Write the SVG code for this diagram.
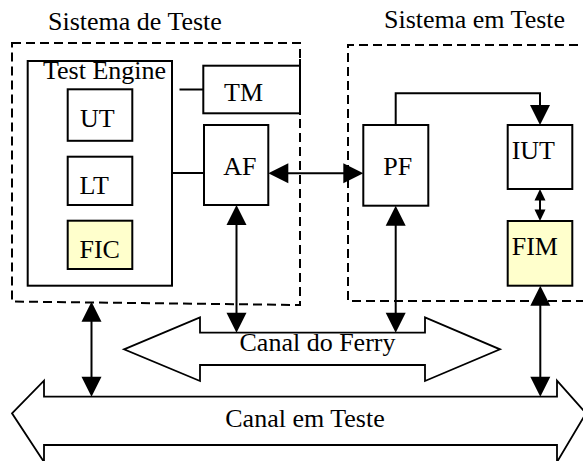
<svg xmlns="http://www.w3.org/2000/svg" width="583" height="461" viewBox="0 0 583 461">
  <style>
    text { font-family: "Liberation Serif", "Times New Roman", serif; font-size: 26px; fill: #000; }
    .box { fill: #fff; stroke: #000; stroke-width: 2; }
    .hl { fill: #ffffcc; stroke: #000; stroke-width: 2; }
    .dash { fill: none; stroke: #000; stroke-width: 2; stroke-dasharray: 9 5; }
    .wire { fill: none; stroke: #000; stroke-width: 2; }
    .head { fill: #000; stroke: none; }
    .bus { fill: #fff; stroke: #000; stroke-width: 1.8; stroke-linejoin: miter; }
  </style>

  <!-- system boundaries -->
  <g id="sistema-de-teste">
    <path class="dash" d="M12,43 H300 V305 L12,301.5 Z"/>
    <text x="48" y="29.5">Sistema de Teste</text>
  </g>
  <g id="sistema-em-teste">
    <path class="dash" d="M592,45 H348 V301 H592"/>
    <text x="384" y="27.5">Sistema em Teste</text>
  </g>

  <!-- channels -->
  <g id="canal-do-ferry">
    <path class="bus" d="M124,349.3 L200,317.3 V332.7 H425 V317.3 L500,349.3 L425,381 V365 H200 V381 Z"/>
    <text x="317.5" y="350.7" text-anchor="middle">Canal do Ferry</text>
  </g>
  <g id="canal-em-teste">
    <path class="bus" d="M12,413.3 L44,380.7 V396.7 H557 V380.7 L586,413.3 L557,462 V445 H44 V462 Z"/>
    <text x="305" y="426.7" text-anchor="middle">Canal em Teste</text>
  </g>

  <!-- tester components -->
  <g id="test-engine">
    <rect class="box" x="27.7" y="61" width="144.3" height="224.7"/>
    <text x="43" y="79">Test Engine</text>
  </g>
  <g id="ut">
    <rect class="box" x="67.7" y="89.3" width="64.6" height="51.5"/>
    <text x="80" y="126.7">UT</text>
  </g>
  <g id="lt">
    <rect class="box" x="67.7" y="156.7" width="64.6" height="48.3"/>
    <text x="79.5" y="194">LT</text>
  </g>
  <g id="fic">
    <rect class="hl" x="67.7" y="220.7" width="64.6" height="48.3"/>
    <text x="79.5" y="258.3">FIC</text>
  </g>
  <g id="tm">
    <rect class="box" x="203.3" y="65.7" width="96.7" height="47.6"/>
    <line class="wire" x1="300" y1="59" x2="300" y2="115"/>
    <text x="224" y="100.7">TM</text>
  </g>
  <g id="af">
    <rect class="box" x="204" y="125" width="64.3" height="80"/>
    <text x="223.3" y="175">AF</text>
  </g>

  <!-- implementation components -->
  <g id="pf">
    <rect class="box" x="363.3" y="125" width="65" height="80.7"/>
    <text x="383.3" y="175">PF</text>
  </g>
  <g id="iut">
    <rect class="box" x="507.7" y="125" width="64.6" height="64"/>
    <text x="511.7" y="159">IUT</text>
  </g>
  <g id="fim">
    <rect class="hl" x="507.7" y="221" width="64.6" height="64.7"/>
    <text x="511.7" y="255">FIM</text>
  </g>

  <!-- connectors -->
  <g id="connectors">
    <!-- Test Engine to TM and AF -->
    <line class="wire" x1="179.5" y1="89.5" x2="203.3" y2="89.5"/>
    <line class="wire" x1="172" y1="173" x2="204" y2="173"/>

    <!-- AF <-> PF -->
    <line class="wire" x1="285" y1="173.3" x2="347" y2="173.3"/>
    <polygon class="head" points="268.3,173.3 288.3,163.3 288.3,183.3"/>
    <polygon class="head" points="363.3,173.3 343.3,163.3 343.3,183.3"/>

    <!-- PF -> IUT -->
    <path class="wire" d="M395.7,125 V93.3 H540 V108"/>
    <polygon class="head" points="540,125 530,105 550,105"/>

    <!-- IUT <-> FIM -->
    <line class="wire" x1="540" y1="198" x2="540" y2="212"/>
    <polygon class="head" points="540,189 534.5,200.5 545.5,200.5"/>
    <polygon class="head" points="540,221 534.5,209.5 545.5,209.5"/>

    <!-- AF <-> Canal do Ferry -->
    <line class="wire" x1="236.5" y1="222" x2="236.5" y2="316"/>
    <polygon class="head" points="236.5,205 226.5,225 246.5,225"/>
    <polygon class="head" points="236.5,332.7 226.5,312.7 246.5,312.7"/>

    <!-- PF <-> Canal do Ferry -->
    <line class="wire" x1="395.7" y1="222" x2="395.7" y2="316"/>
    <polygon class="head" points="395.7,205.7 385.7,225.7 405.7,225.7"/>
    <polygon class="head" points="395.7,332.7 385.7,312.7 405.7,312.7"/>

    <!-- Sistema de Teste <-> Canal em Teste -->
    <line class="wire" x1="91.5" y1="318" x2="91.5" y2="380"/>
    <polygon class="head" points="91.5,301.7 81.5,321.7 101.5,321.7"/>
    <polygon class="head" points="91.5,396.7 81.5,376.7 101.5,376.7"/>

    <!-- FIM <-> Canal em Teste -->
    <line class="wire" x1="540.3" y1="302" x2="540.3" y2="380"/>
    <polygon class="head" points="540.3,285.7 530.3,305.7 550.3,305.7"/>
    <polygon class="head" points="540.3,396.7 530.3,376.7 550.3,376.7"/>
  </g>
</svg>
